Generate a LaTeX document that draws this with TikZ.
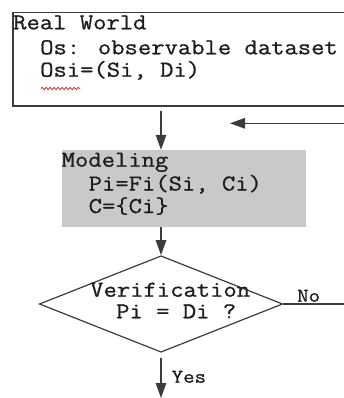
\documentclass[tikz,border=0pt]{standalone}
\usepackage{fontspec}
\newfontfamily\flowfont[FakeBold=0.9,FakeStretch=1.14]{Latin Modern Mono}
\usetikzlibrary{arrows.meta,positioning,shapes.geometric,decorations.pathmorphing}
\definecolor{boxgray}{HTML}{C9C9C9}
\definecolor{lineclr}{HTML}{3C3C3C}
\definecolor{inkclr}{HTML}{1E1E1E}
\definecolor{squig}{HTML}{D9443A}
\tikzset{
  >={Triangle[length=15pt,width=10.5pt]},
  % boxes
  worldbox/.style={draw=lineclr,line width=1.3pt,inner sep=0pt,
                   minimum width=347pt,minimum height=93.3pt},
  modbox/.style={fill=boxgray,inner sep=0pt,minimum width=244pt,minimum height=77pt},
  decide/.style={diamond,draw=lineclr,line width=1.2pt,inner sep=0pt,
                 minimum width=243.4pt,minimum height=96.5pt},
  % text
  txt/.style={anchor=base west,inner sep=0pt,text=inkclr,
              font=\fontsize{22.7}{23}\selectfont\flowfont},
  lbl/.style={anchor=base west,inner sep=0pt,text=inkclr,
              font=\fontsize{19.5}{20}\selectfont\flowfont},
  % lines
  flow/.style={->,draw=lineclr,line width=1.4pt},
  plain/.style={draw=lineclr,line width=1.2pt},
  spell/.style={draw=squig,line width=0.9pt,decorate,
                decoration={snake,segment length=4pt,amplitude=1.2pt}},
}
\begin{document}
\begin{tikzpicture}[x=1pt,y=-1pt]
\useasboundingbox (0,0) rectangle (344,398);
  % real world
  \node[worldbox] (world) at (186.5,59.3) {};
  \node[txt] (rw)  at (13,29.3) {Real World};
  \node[txt] (os)  at (40,54.3) {Os: observable dataset};
  \node[txt] (osi) at (40,76.7) {Osi=(Si, Di)};
  \draw[spell] (41,88.5) -- (80,88.5);
  % modeling
  \node[modbox] (model) at (184,188.5) {};
  \node[txt] (mh)   at (61.5,166.7) {Modeling};
  \node[txt] (pfun) at (88.5,190.5) {Pi=Fi(Si, Ci)};
  \node[txt] (cset) at (88.5,213) {C=\{Ci\}};
  % verification
  \node[decide] (verify) at (161,304) {};
  \node[txt] (vt) at (90,296.7) {Verification};
  \node[txt] (vq) at (116,318.3) {Pi = Di ?};
  \node[lbl] (no)  at (297,301.7) {No};
  \node[lbl] (yes) at (171.5,382.7) {Yes};
  \coordinate (back)    at (346,123.3);
  \coordinate (backtip) at (230,123.3);
  \coordinate (noend)   at (346,304);
  \coordinate (yesend)  at (161,398);
  % connectors
  \draw[flow,shorten <=4pt] (world.south -| verify) -- (model.north -| verify);
  \draw[flow] (model.south -| verify) -- (verify.north);
  \draw[flow] (back) -- (backtip);
  \draw[plain] (verify.east) -- (noend);
  \draw[flow,shorten <=5pt] (verify.south) -- (yesend);
\end{tikzpicture}
\end{document}
